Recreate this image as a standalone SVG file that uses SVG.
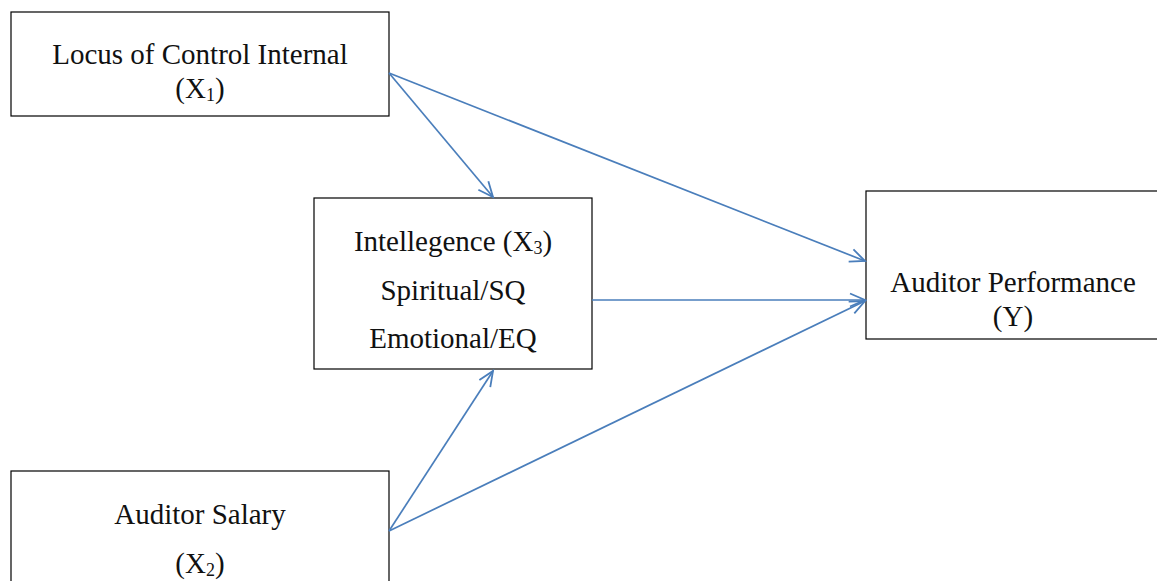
<svg xmlns="http://www.w3.org/2000/svg" width="1157" height="581" viewBox="0 0 1157 581">
<style>
.box{fill:#fff;stroke:#000;stroke-width:1.2}
.t{font-family:"Liberation Serif","Times New Roman",serif;font-size:29px;fill:#111;text-anchor:middle}
.sub{font-size:18px}
.c{fill:none;stroke:#4A7EBB;stroke-width:1.7}
</style>
<defs>
<marker id="ah" markerUnits="userSpaceOnUse" markerWidth="20" markerHeight="18" refX="16" refY="8" orient="auto" viewBox="0 0 20 16">
<path d="M1,1.5 L16,8 L1,14.5" fill="none" stroke="#4A7EBB" stroke-width="1.8"/>
</marker>
</defs>
<g id="n-x1">
<rect class="box" x="11" y="12" width="378" height="104"/>
<text class="t" x="200" y="64">Locus of Control Internal</text>
<text class="t" x="200" y="98">(X<tspan class="sub" dy="3">1</tspan><tspan dy="-3">)</tspan></text>
</g>
<g id="n-x3">
<rect class="box" x="314" y="198" width="278" height="171"/>
<text class="t" x="453" y="251">Intellegence (X<tspan class="sub" dy="3">3</tspan><tspan dy="-3">)</tspan></text>
<text class="t" x="453" y="300">Spiritual/SQ</text>
<text class="t" x="453" y="348">Emotional/EQ</text>
</g>
<g id="n-y">
<rect class="box" x="866" y="191" width="295" height="148"/>
<text class="t" x="1013" y="292">Auditor Performance</text>
<text class="t" x="1013" y="326">(Y)</text>
</g>
<g id="n-x2">
<rect class="box" x="11" y="471" width="378" height="120"/>
<text class="t" x="200" y="524">Auditor Salary</text>
<text class="t" x="200" y="573">(X<tspan class="sub" dy="3">2</tspan><tspan dy="-3">)</tspan></text>
</g>
<g id="connectors">
<line class="c" x1="389" y1="73" x2="493" y2="197" marker-end="url(#ah)"/>
<line class="c" x1="389" y1="73" x2="865" y2="261" marker-end="url(#ah)"/>
<line class="c" x1="592" y1="300" x2="865" y2="300" marker-end="url(#ah)"/>
<line class="c" x1="389" y1="531" x2="493" y2="371" marker-end="url(#ah)"/>
<line class="c" x1="389" y1="531" x2="865" y2="301" marker-end="url(#ah)"/>
</g>
</svg>
